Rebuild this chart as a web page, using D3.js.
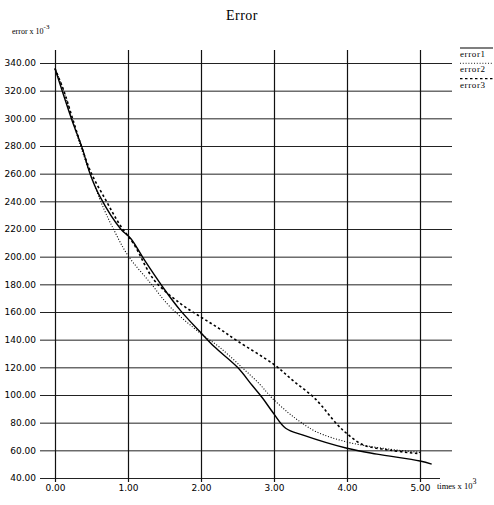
<!DOCTYPE html>
<html>
<head>
<meta charset="utf-8">
<script src="https://cdn.jsdelivr.net/npm/d3@7"></script>
<style>
  body { margin: 0; background: #fff; }
  .tick text { font-family: "DejaVu Sans", sans-serif; font-size: 9px; fill: #000; }
  .lbl { font-family: "Liberation Serif", serif; fill: #000; }
</style>
</head>
<body>
<div id="chart"></div>
<script>
// values (times x 10^3, error x 10^-3)
var times1 = [0, 0.23, 0.37, 0.48, 0.62, 0.9, 1.04, 1.22, 1.49, 1.72, 1.99, 2.18, 2.5, 2.7, 2.84, 2.99, 3.16, 3.4, 4.0, 4.41, 5.0, 5.16];
var error1 = [336, 299, 279, 260, 243, 220, 213, 198, 177, 161, 145.5, 135, 120, 107, 98, 87, 76, 71, 61.5, 57.3, 52.3, 50];

var times2 = [0, 0.12, 0.23, 0.35, 0.48, 0.67, 0.81, 1.0, 1.31, 1.58, 2.0, 2.25, 2.56, 2.8, 2.97, 3.2, 3.36, 3.58, 4.0, 4.5, 5.0];
var error2 = [336, 320, 300, 280, 260, 234.5, 219, 200.8, 180.8, 163.5, 144.3, 134.7, 120, 108, 98, 87, 80.6, 73.4, 66, 61.4, 58.5];

var times3 = [0, 0.12, 0.24, 0.36, 0.5, 0.7, 0.88, 1.08, 1.36, 1.72, 2.0, 2.25, 2.5, 3.0, 3.27, 3.57, 3.86, 4.0, 4.22, 4.6, 5.0];
var error3 = [336, 320, 300, 280, 260, 240.5, 223.7, 209, 183, 166, 156.3, 148, 139, 122, 110, 97, 79, 72, 64, 60, 57.5];

var xTicks = [0, 1, 2, 3, 4, 5];
var yTicks = [40, 60, 80, 100, 120, 140, 160, 180, 200, 220, 240, 260, 280, 300, 320, 340];
var seriesNames = ["error1", "error2", "error3"];

var w = 494, h = 505;
var svg = d3.select("#chart").append("svg").attr("width", w).attr("height", h);

var xScale = d3.scaleLinear().domain([0, 5]).range([55, 420]);
var yScale = d3.scaleLinear().domain([40, 340]).range([478, 63]);

var gridLeft = 40, gridRight = 452, gridTop = 50, gridBottom = 482;

// y axis with long ticks as horizontal grid
var yAxis = d3.axisLeft(yScale).tickValues(yTicks).tickFormat(d3.format(".2f"))
    .tickSize(-(gridRight - gridLeft)).tickPadding(4);
var gy = svg.append("g").attr("transform", "translate(" + gridLeft + ",0)").call(yAxis);
gy.select(".domain").remove();
gy.selectAll(".tick line").attr("stroke", "#222").attr("stroke-width", 1)
    .attr("x2", function(d) { return d == 40 ? 400 : gridRight - gridLeft; });

// x axis, ticks as vertical grid
var xAxis = d3.axisBottom(xScale).tickValues(xTicks).tickFormat(d3.format(".2f"))
    .tickSize(-(gridBottom - gridTop)).tickPadding(3);
var gx = svg.append("g").attr("transform", "translate(0," + gridBottom + ")").call(xAxis);
gx.select(".domain").remove();
gx.selectAll(".tick line").attr("stroke", "#111").attr("stroke-width", 1.2);

// curves
var line = d3.line()
    .x(function(d) { return xScale(d[0]); })
    .y(function(d) { return yScale(d[1]); })
    .curve(d3.curveCatmullRom.alpha(0.5));

var series = [
    d3.zip(times1, error1),
    d3.zip(times2, error2),
    d3.zip(times3, error3)
];
var styles = [
    { dash: null, width: 1.4 },
    { dash: "1,1.8", width: 1.1 },
    { dash: "2.5,2.5", width: 1.6 }
];

svg.selectAll(".curve").data(series).enter().append("path")
    .attr("class", "curve")
    .attr("d", line)
    .attr("fill", "none")
    .attr("stroke", "#000")
    .attr("stroke-width", function(d, i) { return styles[i].width; })
    .attr("stroke-dasharray", function(d, i) { return styles[i].dash; });

// title
svg.append("text").attr("class", "lbl").attr("x", 242).attr("y", 20)
    .attr("text-anchor", "middle").style("font-size", "14px").style("letter-spacing", "0.5px")
    .text("Error");

// axis labels
var yl = svg.append("text").attr("class", "lbl").attr("x", 12).attr("y", 34).style("font-size", "8px");
yl.append("tspan").text("error x 10");
yl.append("tspan").attr("dy", -5).style("font-size", "7px").text("-3");

var xl = svg.append("text").attr("class", "lbl").attr("x", 437).attr("y", 489).style("font-size", "8.5px");
xl.append("tspan").text("times x 10");
xl.append("tspan").attr("dy", -5).style("font-size", "8px").text("3");

// legend
var legend = svg.selectAll(".leg").data(seriesNames).enter().append("g")
    .attr("class", "leg")
    .attr("transform", function(d, i) { return "translate(460," + (48 + i * 15.3) + ")"; });
legend.append("line").attr("x1", 0).attr("x2", 33).attr("y1", 0).attr("y2", 0)
    .attr("stroke", "#000")
    .attr("stroke-width", function(d, i) { return styles[i].width * 0.8; })
    .attr("stroke-dasharray", function(d, i) { return styles[i].dash; });
legend.append("text").attr("class", "lbl").attr("x", 0).attr("y", 9)
    .style("font-size", "9px").style("letter-spacing", "0.6px")
    .text(function(d) { return d; });
</script>
</body>
</html>
